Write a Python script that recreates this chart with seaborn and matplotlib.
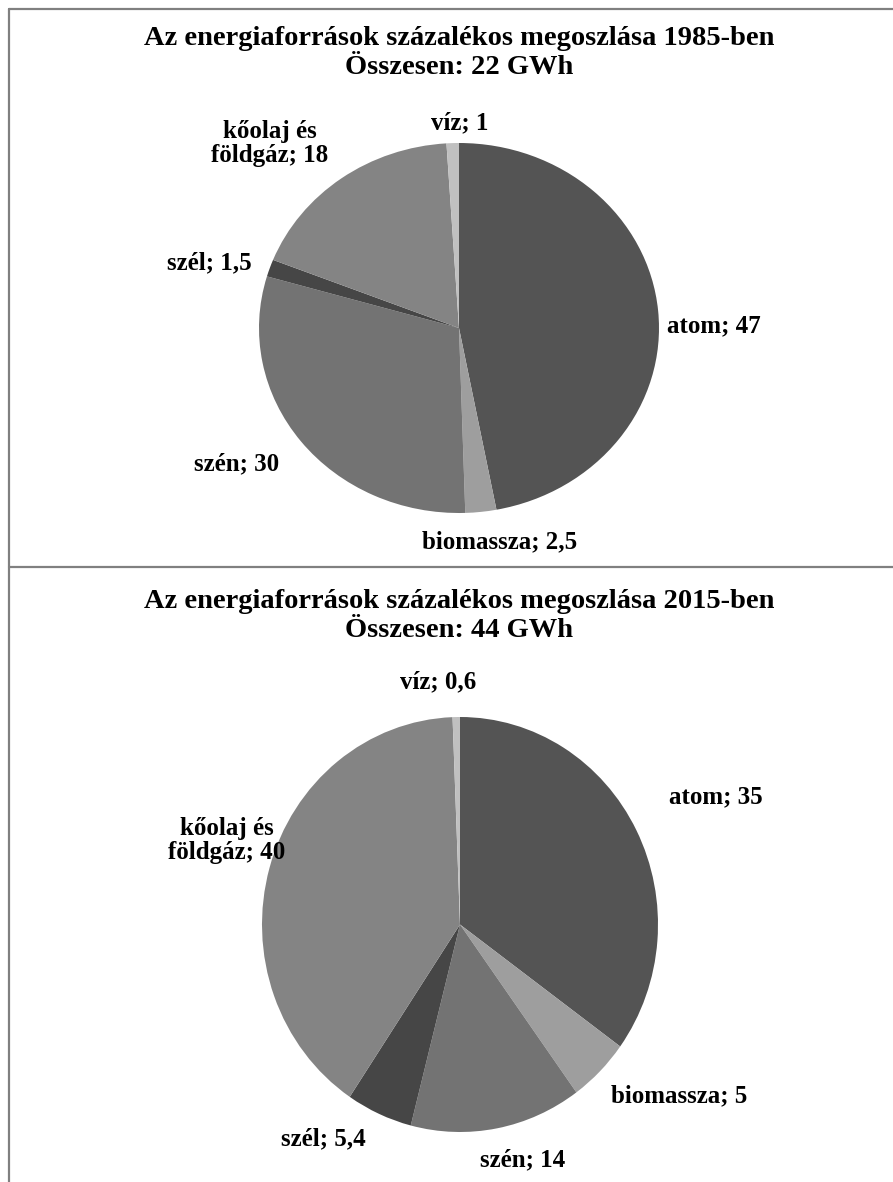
import numpy as np
import matplotlib
matplotlib.use('Agg')
import matplotlib.pyplot as plt
import seaborn as sns

# Data
categories = ['atom', 'biomassza', 'szén', 'szél', 'kőolaj és\nföldgáz', 'víz']
values_1985 = [47, 2.5, 30, 1.5, 18, 1]
values_2015 = [35, 5, 14, 5.4, 40, 0.6]
labels_1985 = ['47', '2,5', '30', '1,5', '18', '1']
labels_2015 = ['35', '5', '14', '5,4', '40', '0,6']
title_1985 = 'Az energiaforrások százalékos megoszlása 1985-ben\nÖsszesen: 22 GWh'
title_2015 = 'Az energiaforrások százalékos megoszlása 2015-ben\nÖsszesen: 44 GWh'

colors = ['#545454', '#9e9e9e', '#737373', '#464646', '#848484', '#c0c0c0']

sns.set_theme(style='white')
plt.rcParams['font.family'] = ['Liberation Serif', 'DejaVu Serif']


def draw_pie(ax, values, vlabels, offsets):
  wedges, _ = ax.pie(values, colors=colors, startangle=90, counterclock=False,
                     wedgeprops={'linewidth': 0}, radius=1)
  ax.set_aspect('auto')
  ax.set_xlim(-1, 1)
  ax.set_ylim(-1, 1)
  ax.axis('off')
  for w, cat, lab, off in zip(wedges, categories, vlabels, offsets):
    mid = np.deg2rad((w.theta1 + w.theta2) / 2)
    x, y = np.cos(mid) + off[0], np.sin(mid) + off[1]
    ax.text(x, y, f'{cat}; {lab}', ha='center', va='center', fontsize=18,
            fontweight='bold', color='black', clip_on=False, linespacing=1.05)


fig = plt.figure(figsize=(8.93, 11.82), dpi=100)

# label offsets from the wedge edge (pie radius units)
off_1985 = [(0.28, -0.08), (0.095, -0.16), (-0.32, -0.12), (-0.30, 0.03), (-0.36, 0.19), (0.035, 0.11)]
off_2015 = [(0.40, 0.16), (0.40, -0.12), (0.13, -0.15), (-0.28, -0.12), (-0.215, 0.13), (-0.09, 0.17)]

ax1 = fig.add_axes([259 / 893, 1 - 513 / 1182, 400 / 893, 370 / 1182])
draw_pie(ax1, values_1985, labels_1985, off_1985)

ax2 = fig.add_axes([262 / 893, 1 - 1132 / 1182, 396 / 893, 415 / 1182])
draw_pie(ax2, values_2015, labels_2015, off_2015)

fig.text(459 / 893, 1 - 53 / 1182, title_1985, ha='center', va='center', fontsize=20.5,
         fontweight='bold', color='black', linespacing=1.2)
fig.text(459 / 893, 1 - 616 / 1182, title_2015, ha='center', va='center', fontsize=20.5,
         fontweight='bold', color='black', linespacing=1.2)

# frame lines
line_kw = dict(color='#808080', linewidth=1.6, transform=fig.transFigure)
fig.add_artist(plt.Line2D([9 / 893, 1], [1 - 9 / 1182, 1 - 9 / 1182], **line_kw))
fig.add_artist(plt.Line2D([9 / 893, 9 / 893], [0, 1 - 9 / 1182], **line_kw))
fig.add_artist(plt.Line2D([9 / 893, 1], [1 - 567 / 1182, 1 - 567 / 1182], **line_kw))

fig.savefig('out.png', dpi=100, facecolor='white')
